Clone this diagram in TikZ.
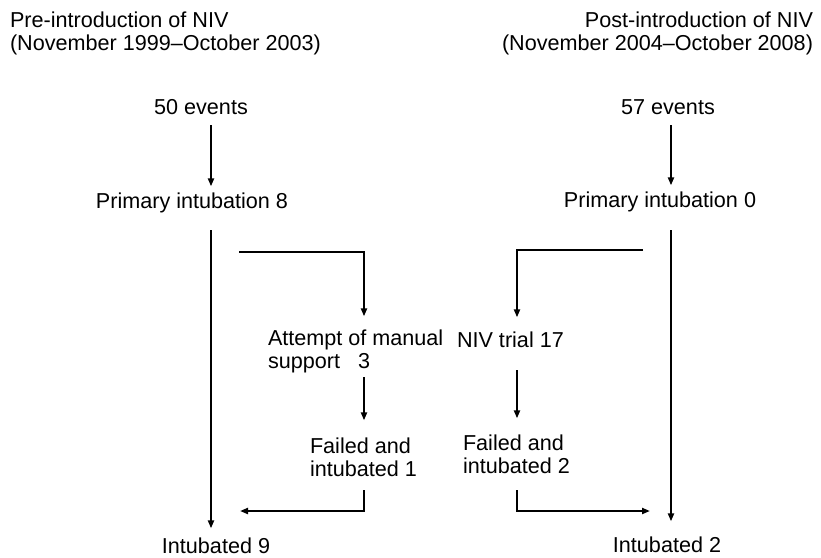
\documentclass[tikz,border=0pt]{standalone}
\usepackage{fontspec}
\setmainfont{Liberation Sans}
\usetikzlibrary{arrows.meta}
\begin{document}
\begin{tikzpicture}[x=1pt,y=-1pt,
  lbl/.style={inner sep=0pt, outer sep=0pt, font=\fontsize{21.6}{23}\selectfont},
  conn/.style={line width=2pt, black},
  arr/.style={conn, -{Triangle[length=8pt,width=6pt]}}]
\useasboundingbox (0,0) rectangle (821,557);
% titles (base anchor of a multi-line node = baseline of its last line)
\node[lbl, anchor=base west, align=left] (t1) at (10,50) {Pre-introduction of NIV\\(November 1999--October 2003)};
\node[lbl, anchor=base east, align=right] (t2) at (813,50) {Post-introduction of NIV\\(November 2004--October 2008)};
% left column
\node[lbl, anchor=base] (e50) at (201,114) {50 events};
\node[lbl, anchor=base] (pi8) at (192,208) {Primary intubation 8};
\node[lbl, anchor=base west, align=left] (am) at (268,368) {Attempt of manual\\support\ \ \ 3};
\node[lbl, anchor=base west, align=left] (f1) at (310,476) {Failed and\\intubated 1};
\node[lbl, anchor=base] (i9) at (216,553) {Intubated 9};
% right column
\node[lbl, anchor=base] (e57) at (668,114) {57 events};
\node[lbl, anchor=base] (pi0) at (660,207) {Primary intubation 0};
\node[lbl, anchor=base west] (niv) at (457,347) {NIV trial 17};
\node[lbl, anchor=base west, align=left] (f2) at (463,473) {Failed and\\intubated 2};
\node[lbl, anchor=base] (i2) at (667,552) {Intubated 2};
% helper coordinates
\coordinate (a1) at (211,125);
\coordinate (l1) at (211,230);
\coordinate (lb) at (239,252);
\coordinate (a3) at (364,377);
\coordinate (le) at (364,490);
\coordinate (lend) at (240,511);
\coordinate (a2) at (671,125);
\coordinate (r1) at (671,230);
\coordinate (rb) at (643,250);
\coordinate (a4) at (517,370);
\coordinate (re) at (517,490);
\coordinate (rend) at (650,511);
% left connectors
\draw[arr, shorten >=6pt] (a1) -- (pi8.north -| a1);
\draw[arr, shorten >=9pt] (l1) -- (i9.north -| l1);
\draw[arr, shorten >=13pt] (lb) -| (am.north -| a3);
\draw[arr, shorten >=17pt] (a3) -- (f1.north -| a3);
\draw[arr] (le) |- (lend);
% right connectors
\draw[arr, shorten >=6pt] (a2) -- (pi0.north -| a2);
\draw[arr, shorten >=15pt] (r1) -- (i2.north -| r1);
\draw[arr, shorten >=14pt] (rb) -| (niv.north -| a4);
\draw[arr, shorten >=16pt] (a4) -- (f2.north -| a4);
\draw[arr] (re) |- (rend);
\end{tikzpicture}
\end{document}
